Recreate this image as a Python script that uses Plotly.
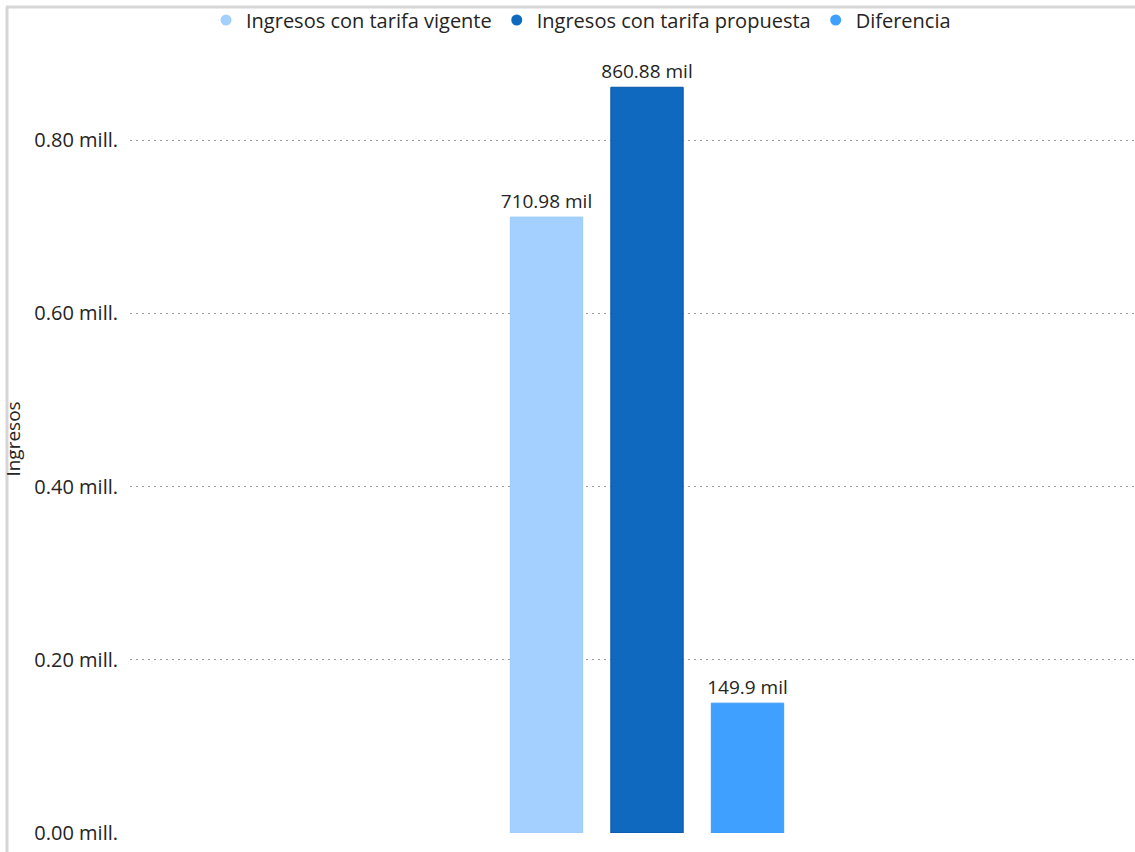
import plotly.graph_objects as go

series = ["Ingresos con tarifa vigente", "Ingresos con tarifa propuesta", "Diferencia"]
values = [710980, 860880, 149900]
labels = ["710.98 mil", "860.88 mil", "149.9 mil"]
colors = ["#A3D0FF", "#0F69BF", "#40A0FF"]
edge_colors = ["#9CCBFB", "#0656A8", "#3A9CFA"]
tick_vals = [0, 200000, 400000, 600000, 800000]
tick_text = ["0.00 mill.", "0.20 mill.", "0.40 mill.", "0.60 mill.", "0.80 mill."]

W, H = 1135, 852
ml, mr, mt, mb = 130, 0, 45, 19
pw = W - ml - mr
ph = H - mt - mb

fig = go.Figure()
for s, v, lab, c, ec in zip(series, values, labels, colors, edge_colors):
    fig.add_trace(go.Bar(
        x=[""], y=[v], name=s, text=[lab], textposition="outside",
        texttemplate="%{text}", cliponaxis=False, constraintext="none",
        textfont=dict(family="Open Sans", size=19, color="#252423"),
        marker=dict(color=c, line=dict(color=ec, width=1)),
        showlegend=False, hoverinfo="skip",
    ))
    fig.add_trace(go.Scatter(
        x=[None], y=[None], mode="markers", name=s,
        marker=dict(color=c, size=11, symbol="circle"),
    ))

shift = (647 - (ml + pw / 2)) / pw

fig.update_layout(
    width=W, height=H,
    margin=dict(l=ml, r=mr, t=mt, b=mb, autoexpand=False),
    paper_bgcolor="white", plot_bgcolor="white",
    barmode="group", bargap=0.7, bargroupgap=0.28,
    font=dict(family="Open Sans", color="#252423"),
    legend=dict(orientation="h", x=(581 - ml) / pw, xanchor="center",
                y=(H - mb - 20) / ph, yanchor="middle",
                font=dict(size=20, color="#252423"), itemwidth=30,
                bgcolor="rgba(0,0,0,0)", tracegroupgap=0),
    xaxis=dict(showticklabels=False, showgrid=False, zeroline=False,
               range=[-0.5 - shift, 0.5 - shift], fixedrange=True),
    yaxis=dict(range=[0, ph / 866.25 * 1e6], tickvals=tick_vals, ticktext=tick_text,
               showgrid=True, gridcolor="#9A9A9A", griddash="2px,4px", gridwidth=1,
               zeroline=False, showline=False, ticks="", automargin=False,
               tickfont=dict(size=20, color="#252423"), ticklabelstandoff=11,
               title=dict(text="Ingresos", font=dict(size=19, color="#252423"), standoff=14)),
    shapes=[
        dict(type="line", xref="paper", yref="paper",
             x0=(7 - ml) / pw, x1=(7 - ml) / pw, y0=(H - mb - 7) / ph, y1=-mb / ph,
             line=dict(color="#D6D6D6", width=3)),
        dict(type="line", xref="paper", yref="paper",
             x0=(6 - ml) / pw, x1=1.0, y0=(H - mb - 7) / ph, y1=(H - mb - 7) / ph,
             line=dict(color="#D6D6D6", width=3)),
    ],
)

fig.write_html("out.html", config={"displayModeBar": False},
               post_script="document.body.style.margin='0';document.body.style.overflow='hidden';")
